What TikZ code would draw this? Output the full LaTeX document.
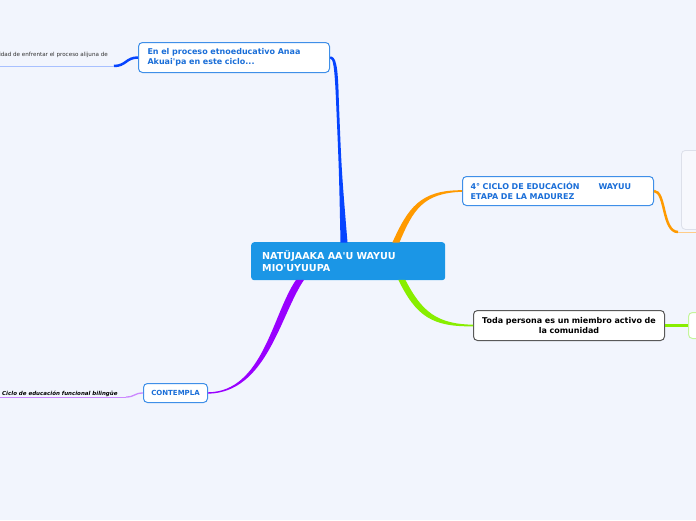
\documentclass[tikz,border=0pt]{standalone}
\usepackage{fontspec}
\setmainfont{DejaVu Sans}
\usetikzlibrary{calc}
\definecolor{bgc}{HTML}{F2F5FD}
\definecolor{cfill}{HTML}{1B96E6}
\definecolor{nborder}{HTML}{3F8FE8}
\definecolor{ntext}{HTML}{1A6ED8}
\definecolor{cblue}{HTML}{0644FF}
\definecolor{lblue}{HTML}{A8C0FF}
\definecolor{corange}{HTML}{FF9A00}
\definecolor{lorange}{HTML}{FFCC88}
\definecolor{cgreen}{HTML}{88EE00}
\definecolor{lgreen}{HTML}{C4F59C}
\definecolor{cpurple}{HTML}{9900FF}
\definecolor{lpurple}{HTML}{CC88FF}
\definecolor{faint}{HTML}{DDE0EA}
\definecolor{faintfill}{HTML}{F7F8FD}
\newcommand{\sq}{\textquotesingle}
\tikzset{
  mainnode/.style={anchor=north west, fill=cfill, text=white, rounded corners=3pt,
    font=\fontsize{9.6}{12}\selectfont\bfseries, text width=172pt, align=left,
    inner xsep=11pt, inner ysep=0pt, minimum height=38pt},
  bluenode/.style={anchor=north west, draw=nborder, line width=1pt, fill=white, text=ntext,
    rounded corners=4pt, font=\fontsize{8}{10}\selectfont\bfseries, align=left,
    inner ysep=0pt},
  darknode/.style={anchor=north west, draw=black!65, line width=1pt, fill=white, text=black,
    rounded corners=4pt, font=\fontsize{8}{10}\selectfont\bfseries, align=center,
    inner ysep=0pt},
  smalltext/.style={font=\fontsize{5.6}{6.5}\selectfont, inner sep=0pt},
}
\begin{document}
\begin{tikzpicture}[x=1pt,y=-1pt]
\useasboundingbox (0,0) rectangle (696,520);
\fill[bgc] (0,0) rectangle (696,520);

% nodes
\node[mainnode] (c) at (251,242) {NATÜJAAKA AA\sq U WAYUU MIO\sq UYUUPA};
\node[bluenode, text width=173pt, inner xsep=9pt, minimum height=30pt] (t) at (138,42)
  {En el proceso etnoeducativo Anaa Akuai\sq pa en este ciclo...};
\node[bluenode, text width=175pt, inner xsep=8pt, minimum height=29pt] (o) at (462,176)
  {4° CICLO DE EDUCACIÓN\hspace{19pt}WAYUU\\ETAPA DE LA MADUREZ};
\node[darknode, text width=175pt, inner xsep=8pt, minimum height=30pt] (d) at (473,310)
  {Toda persona es un miembro activo de\\la comunidad};
\node[bluenode, align=center, font=\fontsize{7}{8}\selectfont\bfseries, minimum width=64pt,
  minimum height=19pt, inner xsep=0pt] (ct) at (143,383) {CONTEMPLA};
\node[anchor=north west, draw=faint, line width=0.8pt, fill=faintfill, rounded corners=4pt,
  minimum width=40pt, minimum height=79pt] (r1) at (681,150) {};
\node[anchor=north west, draw=lgreen, line width=1pt, fill=white, rounded corners=4pt,
  minimum width=40pt, minimum height=26pt] (r2) at (688,312) {};

% free ends
\coordinate (bl) at (114,66);
\coordinate (blend) at (-5,66);
\coordinate (orj) at (678,232);
\coordinate (orend) at (705,232);
\coordinate (pl) at (126,397);
\coordinate (plend) at (-5,397);

% blue main branch
\fill[cblue] ($(c.north west)+(89.5,0.5)$) .. controls (339,170) .. (336,100)
  .. controls (334.5,66) and (333,58) .. ($(t.east)+(0,1)$)
  -- ($(t.east)+(0,-1)$) .. controls (336,56) and (338,65) .. (338.8,100)
  .. controls (341.5,170) .. ($(c.north west)+(96.5,0.5)$) -- cycle;
% orange main branch
\fill[corange] ($(c.north east)+(-53,0.5)$) .. controls (408,208) and (420,190) .. ($(o.west)+(0,-0.8)$)
  -- ($(o.west)+(0,0.8)$) .. controls (423,193) and (413,210) .. ($(c.north east)+(-46,0.5)$) -- cycle;
% green main branch
\fill[cgreen] ($(c.south east)+(-40,-0.5)$) .. controls (422,312) and (437,324) .. ($(d.west)+(0,-0.8)$)
  -- ($(d.west)+(0,0.8)$) .. controls (432,327) and (416,316) .. ($(c.south east)+(-47,-0.5)$) -- cycle;
% purple main branch
\fill[cpurple] ($(c.south west)+(45,-0.5)$) .. controls (272,315) and (263,391.5) .. ($(ct.east)+(0,-0.7)$)
  -- ($(ct.east)+(0,0.7)$) .. controls (267,392.5) and (280,315) .. ($(c.south west)+(53,-0.5)$) -- cycle;

% secondary branches
\draw[cblue, line width=2.5pt] (t.west) .. controls +(-12,0) and +(12,0) .. (bl);
\draw[lblue, line width=1pt] (bl) -- (blend);
\draw[corange, line width=2.5pt] (o.east) .. controls +(12,0) and +(-16,0) .. (orj);
\draw[lorange, line width=1pt] (orj) -- (orend);
\draw[cgreen, line width=3pt] (d.east) -- (r2.west);
\draw[lpurple, line width=1.3pt] (ct.west) .. controls +(-9,0) and +(9,0) .. (pl);
\draw[lpurple, line width=0.8pt] (pl) -- (plend);

% small texts
\node[smalltext, anchor=base east, text=black!80] (s1) at (108,56) {idad de enfrentar el proceso alijuna de};
\node[smalltext, anchor=base west, font=\fontsize{5.5}{6.5}\selectfont\bfseries\itshape, text=black] (s2) at (2,395)
  {Ciclo de educación funcional bilingüe};
\end{tikzpicture}
\end{document}
